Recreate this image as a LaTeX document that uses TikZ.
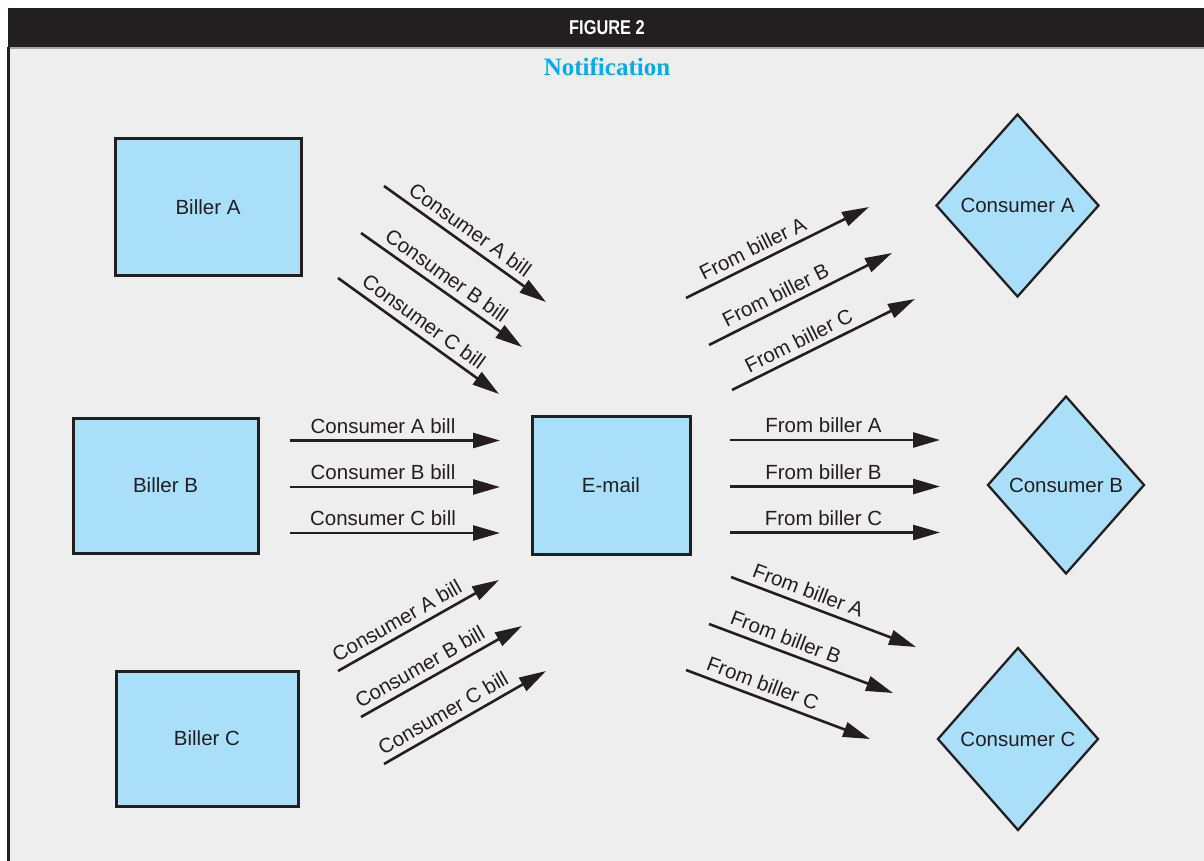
\documentclass[tikz,border=0pt]{standalone}
\usepackage{fontspec}
\setmainfont{Liberation Sans}
\newfontfamily\titlefont{Liberation Serif}
\usetikzlibrary{arrows.meta,shapes.geometric}
\definecolor{ink}{HTML}{231F20}
\definecolor{panel}{HTML}{EEEEEE}
\definecolor{boxblue}{HTML}{AADFF9}
\definecolor{titlecyan}{HTML}{00AEEF}

\begin{document}
\begin{tikzpicture}[x=1pt,y=-1pt,
  party/.style={draw=ink, line width=3pt, fill=boxblue, inner sep=0pt,
    font=\fontsize{20.5}{24}\selectfont, text=ink},
  recipient/.style={diamond, draw=ink, line width=2.3pt, fill=boxblue, inner sep=0pt,
    font=\fontsize{20.5}{24}\selectfont, text=ink},
  flow/.style={draw=ink, line width=2.6pt, -{Triangle[length=27pt,width=15pt]}},
  tag/.style={font=\fontsize{20.5}{24}\selectfont, text=ink, inner sep=1pt, sloped, above=5pt}
]
% canvas: white margin, dark header band, grey panel with left rule
\useasboundingbox (0,0) rectangle (1204,861);
\fill[white] (0,0) rectangle (1204,861);
\fill[panel] (8,47) rectangle (1204,861);
\fill[ink] (8,8) rectangle (1204,47);
\draw[gray!70, line width=1.2pt] (8,48) -- (1204,48);
\draw[ink, line width=2.7pt] (8.7,47) -- (8.7,861);

\node[text=white, font=\fontsize{20}{22}\selectfont\bfseries, xscale=0.82, transform shape] (fig) at (607,28) {FIGURE 2};
\node[text=titlecyan, font=\titlefont\fontsize{25}{28}\selectfont\bfseries] (title) at (607,67) {Notification};

% billers, mail server and consumers
\node[party, minimum width=186pt, minimum height=136pt] (billerA) at (208,207) {Biller A};
\node[party, minimum width=185pt, minimum height=135pt] (billerB) at (165.5,485.5) {Biller B};
\node[party, minimum width=182pt, minimum height=135pt] (billerC) at (207,738.5) {Biller C};
\node[party, minimum width=158pt, minimum height=138pt] (email) at (611,485) {E-mail};

\node[recipient, minimum width=163pt, minimum height=183pt] (consA) at (1017.5,205.5) {Consumer A};
\node[recipient, minimum width=157pt, minimum height=178pt] (consB) at (1066,485) {Consumer B};
\node[recipient, minimum width=161pt, minimum height=183pt] (consC) at (1018,739) {Consumer C};

% arrow end points
\coordinate (a1s) at (384,186); \coordinate (a1e) at (546,302);
\coordinate (a2s) at (361,233); \coordinate (a2e) at (522,347);
\coordinate (a3s) at (338,278); \coordinate (a3e) at (499,394);

\coordinate (b1s) at (290,440.5); \coordinate (b1e) at (500,440.5);
\coordinate (b2s) at (290,487);   \coordinate (b2e) at (500,487);
\coordinate (b3s) at (290,533);   \coordinate (b3e) at (500,533);

\coordinate (c1s) at (338,671); \coordinate (c1e) at (499,580);
\coordinate (c2s) at (361,717); \coordinate (c2e) at (522,626);
\coordinate (c3s) at (384,764); \coordinate (c3e) at (546,671);

\coordinate (d1s) at (686,298); \coordinate (d1e) at (869,207);
\coordinate (d2s) at (709,345); \coordinate (d2e) at (892,253);
\coordinate (d3s) at (732,390); \coordinate (d3e) at (915,299);

\coordinate (e1s) at (730,440); \coordinate (e1e) at (940,440);
\coordinate (e2s) at (730,486.5); \coordinate (e2e) at (940,486.5);
\coordinate (e3s) at (730,532.5); \coordinate (e3e) at (940,532.5);

\coordinate (f1s) at (731,577); \coordinate (f1e) at (916,647);
\coordinate (f2s) at (709,624); \coordinate (f2e) at (893,693);
\coordinate (f3s) at (686,670); \coordinate (f3e) at (870,739);

% bills flowing in from billers
\draw[flow] (a1s) -- node[tag, pos=0.48] {Consumer A bill} (a1e);
\draw[flow] (a2s) -- node[tag, pos=0.48] {Consumer B bill} (a2e);
\draw[flow] (a3s) -- node[tag, pos=0.48] {Consumer C bill} (a3e);

\draw[flow] (b1s) -- node[tag, pos=0.443] {Consumer A bill} (b1e);
\draw[flow] (b2s) -- node[tag, pos=0.443] {Consumer B bill} (b2e);
\draw[flow] (b3s) -- node[tag, pos=0.443] {Consumer C bill} (b3e);

\draw[flow] (c1s) -- node[tag, pos=0.41] {Consumer A bill} (c1e);
\draw[flow] (c2s) -- node[tag, pos=0.41] {Consumer B bill} (c2e);
\draw[flow] (c3s) -- node[tag, pos=0.41] {Consumer C bill} (c3e);

% notifications going out to consumers
\draw[flow] (d1s) -- node[tag, pos=0.40] {From biller A} (d1e);
\draw[flow] (d2s) -- node[tag, pos=0.40] {From biller B} (d2e);
\draw[flow] (d3s) -- node[tag, pos=0.40] {From biller C} (d3e);

\draw[flow] (e1s) -- node[tag, pos=0.445] {From biller A} (e1e);
\draw[flow] (e2s) -- node[tag, pos=0.445] {From biller B} (e2e);
\draw[flow] (e3s) -- node[tag, pos=0.445] {From biller C} (e3e);

\draw[flow] (f1s) -- node[tag, pos=0.39] {From biller A} (f1e);
\draw[flow] (f2s) -- node[tag, pos=0.39] {From biller B} (f2e);
\draw[flow] (f3s) -- node[tag, pos=0.39] {From biller C} (f3e);
\end{tikzpicture}
\end{document}
